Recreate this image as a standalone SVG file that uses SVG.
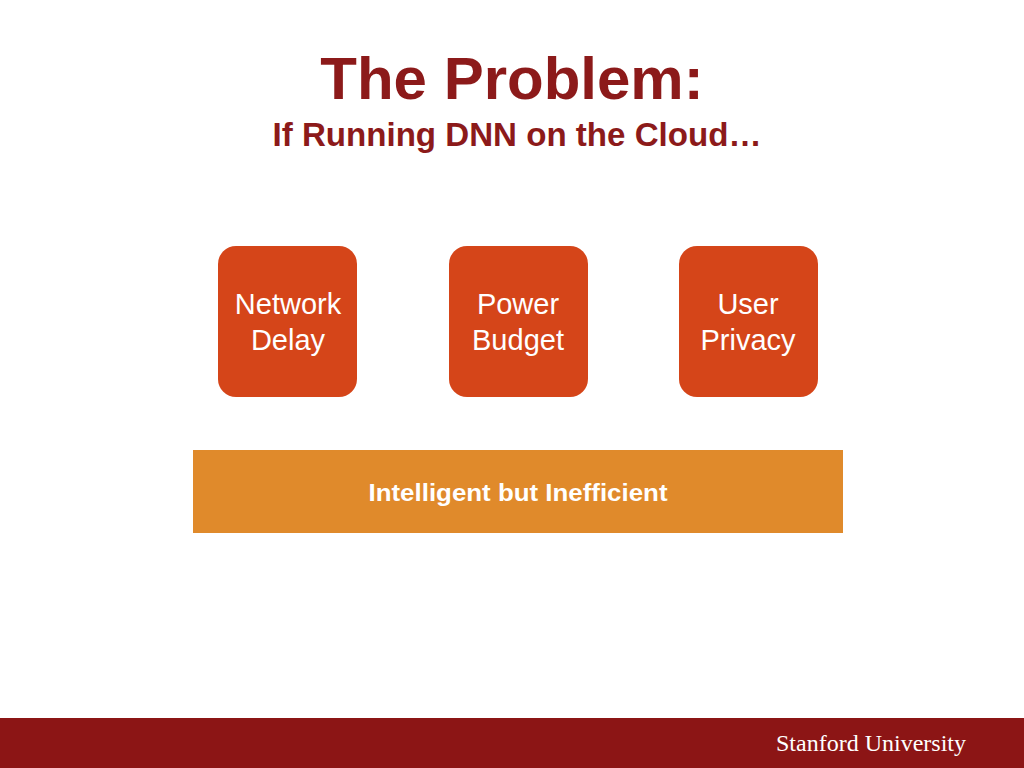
<svg xmlns="http://www.w3.org/2000/svg" width="1024" height="768" viewBox="0 0 1024 768">
<style>
.title{font-family:"Liberation Sans",Arial,sans-serif;font-weight:bold;fill:#8C1A1A;text-anchor:middle}
.box{fill:#D54519}
.boxt{font-family:"Liberation Sans",Arial,sans-serif;font-size:29px;fill:#FFFFFF;text-anchor:middle}
.bart{font-family:"Liberation Sans",Arial,sans-serif;font-weight:bold;font-size:24px;fill:#FFFFFF;text-anchor:middle}
</style>
<rect x="0" y="0" width="1024" height="768" fill="#FFFFFF"/>
<text class="title" x="512" y="99" font-size="60">The Problem:</text>
<text class="title" x="517" y="146" font-size="33" textLength="489" lengthAdjust="spacingAndGlyphs">If Running DNN on the Cloud…</text>
<g id="network-delay">
<rect class="box" x="218" y="246" width="139" height="151" rx="18"/>
<text class="boxt" x="288" y="314">Network</text>
<text class="boxt" x="288" y="350">Delay</text>
</g>
<g id="power-budget">
<rect class="box" x="449" y="246" width="139" height="151" rx="18"/>
<text class="boxt" x="518" y="314">Power</text>
<text class="boxt" x="518" y="350">Budget</text>
</g>
<g id="user-privacy">
<rect class="box" x="679" y="246" width="139" height="151" rx="18"/>
<text class="boxt" x="748" y="314">User</text>
<text class="boxt" x="748" y="350">Privacy</text>
</g>
<g id="connectors"></g>
<g id="bar">
<rect x="193" y="450" width="650" height="83" fill="#E08A2B"/>
<text class="bart" x="518" y="501" textLength="299" lengthAdjust="spacingAndGlyphs">Intelligent but Inefficient</text>
</g>
<g id="footer">
<rect x="0" y="718" width="1024" height="50" fill="#8C1515"/>
<text x="871" y="751" font-family="Liberation Serif,'Times New Roman',serif" font-size="24" fill="#FFFFFF" text-anchor="middle">Stanford University</text>
</g>
</svg>
